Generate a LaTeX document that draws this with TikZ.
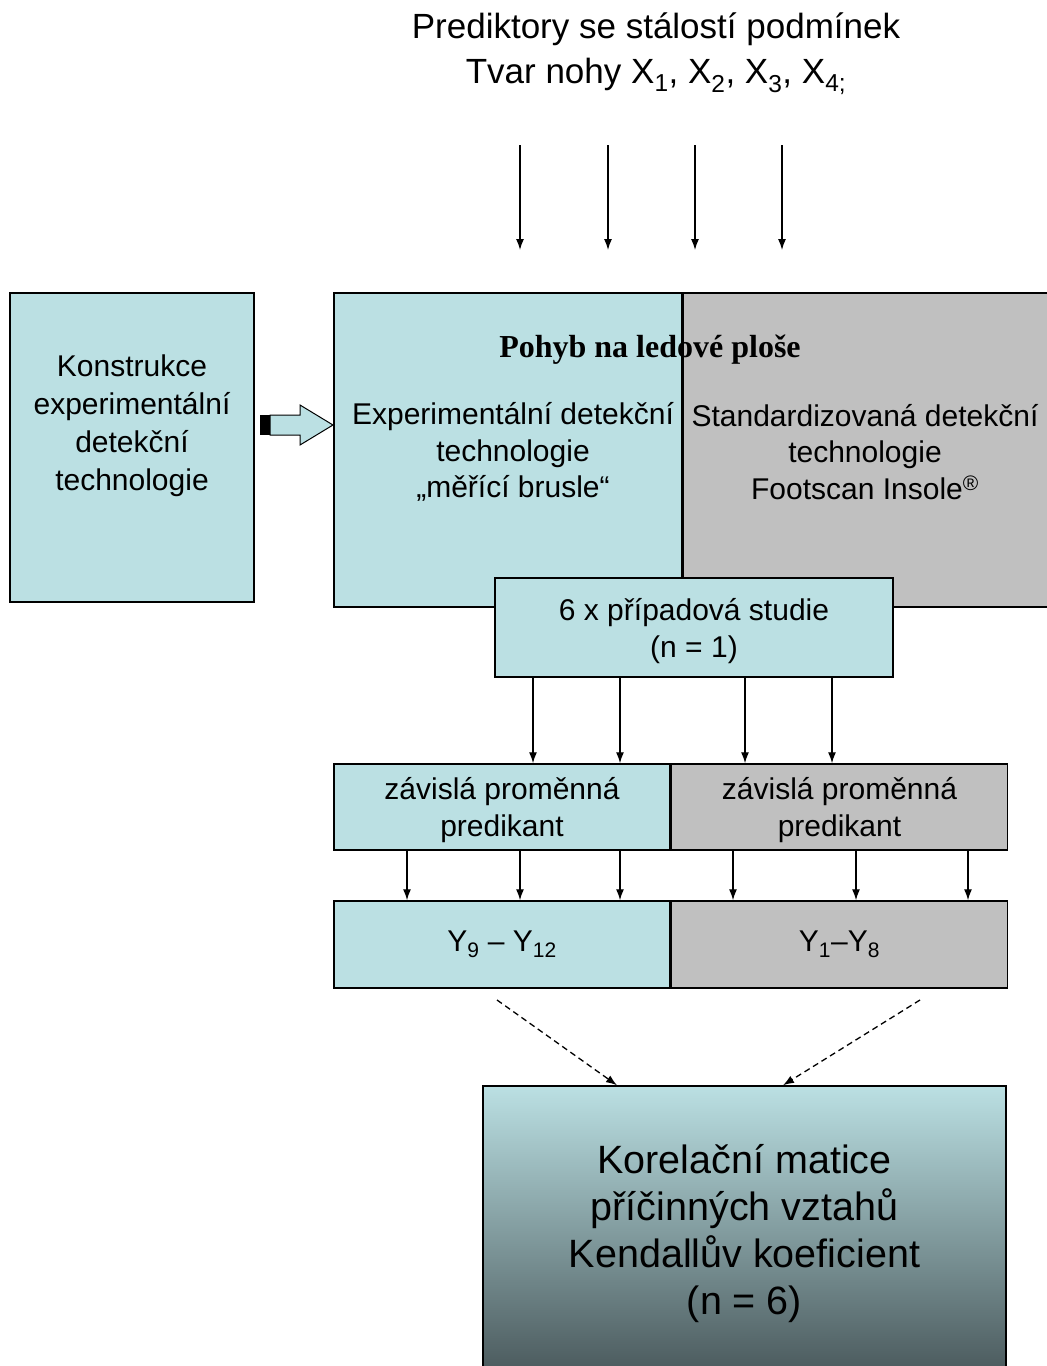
\documentclass[tikz,border=0pt]{standalone}
\usepackage{fontspec}
\setmainfont{Liberation Sans}
\newfontfamily\patkove{Liberation Serif}
\usetikzlibrary{arrows.meta}
\definecolor{tyrkys}{HTML}{BBE0E3}
\definecolor{seda}{HTML}{C0C0C0}
\definecolor{tmava}{HTML}{4A595C}
\tikzset{
  blok/.style={draw, line width=1.5pt, fill=tyrkys, inner sep=0pt, align=center,
    font=\fontsize{30}{36.5}\selectfont},
  sedy/.style={blok, fill=seda},
  sipka/.style={-{Latex[length=11pt,width=8pt]}, line width=1.3pt},
}
\begin{document}
\begin{tikzpicture}[x=1pt,y=-1pt]
\useasboundingbox (0,0) rectangle (1047,1366);
        %prediktory
        \node[align=center, font=\fontsize{35}{45}\selectfont] (pred) at (656,54)
          {Prediktory se stálostí podmínek\\Tvar nohy X\textsubscript{1}, X\textsubscript{2}, X\textsubscript{3}, X\textsubscript{4;}};
        \foreach \x [count=\i] in {520,608,695,782}{
          \coordinate (p\i) at (\x,145);
          \coordinate (q\i) at (\x,250);
          \draw[sipka](p\i)--(q\i);
        }
        %konstrukce
        \node[blok, minimum width=244, minimum height=309] (konstr) at (132,447.5) {};
        \node[align=center, font=\fontsize{30}{38}\selectfont] (konstrtext) at ([yshift=22]konstr.center)
          {Konstrukce\\experimentální\\detekční\\technologie};
        %pohyb na ledove plose
        \node[blok, minimum width=348, minimum height=314] (exper) at (508,450) {};
        \node[align=center, font=\fontsize{30}{36.5}\selectfont] (expertext) at (513,452)
          {Experimentální detekční\\technologie\\„měřící brusle“};
        \node[sedy, minimum width=367, minimum height=314, anchor=west] (stand) at (exper.east) {};
        \node[align=center, font=\fontsize{30}{36.5}\selectfont] (standtext) at (865,452)
          {Standardizovaná detekční\\technologie\\Footscan Insole\textsuperscript{®}};
        \node[font=\patkove\bfseries\fontsize{32}{38}\selectfont] (pohyb) at (650,350) {Pohyb na ledové ploše};
        %dutá šipka
        \coordinate (dut) at (270,425);
        \fill (dut)++(-10,-10) rectangle ++(10,20);
        \draw[line width=1pt, fill=tyrkys](dut)++(0,-10)--++(30,0)--++(0,-10)--++(33,20)--++(-33,20)--++(0,-10)--++(-30,0)--cycle;
        %pripadova studie
        \node[blok, minimum width=398, minimum height=99] (pripad) at (694,627.5) {};
        \node[align=center, font=\fontsize{30}{36.5}\selectfont] (pripadtext) at (694,631)
          {6 x případová studie\\(n = 1)};
        %zavisla promenna
        \node[blok, minimum width=336, minimum height=86] (zavL) at (502,807) {};
        \node[sedy, minimum width=336, minimum height=86, anchor=west] (zavR) at (zavL.east) {};
        \node[align=center, font=\fontsize{30}{36.5}\selectfont] at ([yshift=-3]zavL.center) {závislá proměnná\\predikant};
        \node[align=center, font=\fontsize{30}{36.5}\selectfont] at ([yshift=-3]zavR.center) {závislá proměnná\\predikant};
        \foreach \x in {533,620}
          \draw[sipka](pripad.south -| \x,0)--(zavL.north -| \x,0);
        \foreach \x in {745,832}
          \draw[sipka](pripad.south -| \x,0)--(zavR.north -| \x,0);
        %Y
        \node[blok, minimum width=336, minimum height=87] (yL) at (502,944.5) {Y\textsubscript{9} – Y\textsubscript{12}};
        \node[sedy, minimum width=336, minimum height=87, anchor=west] (yR) at (yL.east) {Y\textsubscript{1}–Y\textsubscript{8}};
        \foreach \x in {407,520,620}
          \draw[sipka](zavL.south -| \x,0)--(yL.north -| \x,0);
        \foreach \x in {733,856,968}
          \draw[sipka](zavR.south -| \x,0)--(yR.north -| \x,0);
        %korelacni matice
        \node[blok, top color=tyrkys, bottom color=tmava, minimum width=523, minimum height=289] (korel) at (744.5,1230.5) {};
        \node[align=center, font=\fontsize{39.5}{47}\selectfont] (koreltext) at ([yshift=-3]korel.center)
          {Korelační matice\\příčinných vztahů\\Kendallův koeficient\\(n = 6)};
        %carkovane
        \coordinate (c1) at (497,1000);
        \coordinate (c2) at (920,1000);
        \draw[sipka, dash pattern=on 6pt off 4pt](c1)--(korel.north -| 617,0);
        \draw[sipka, dash pattern=on 6pt off 4pt](c2)--(korel.north -| 783,0);
\end{tikzpicture}
\end{document}
